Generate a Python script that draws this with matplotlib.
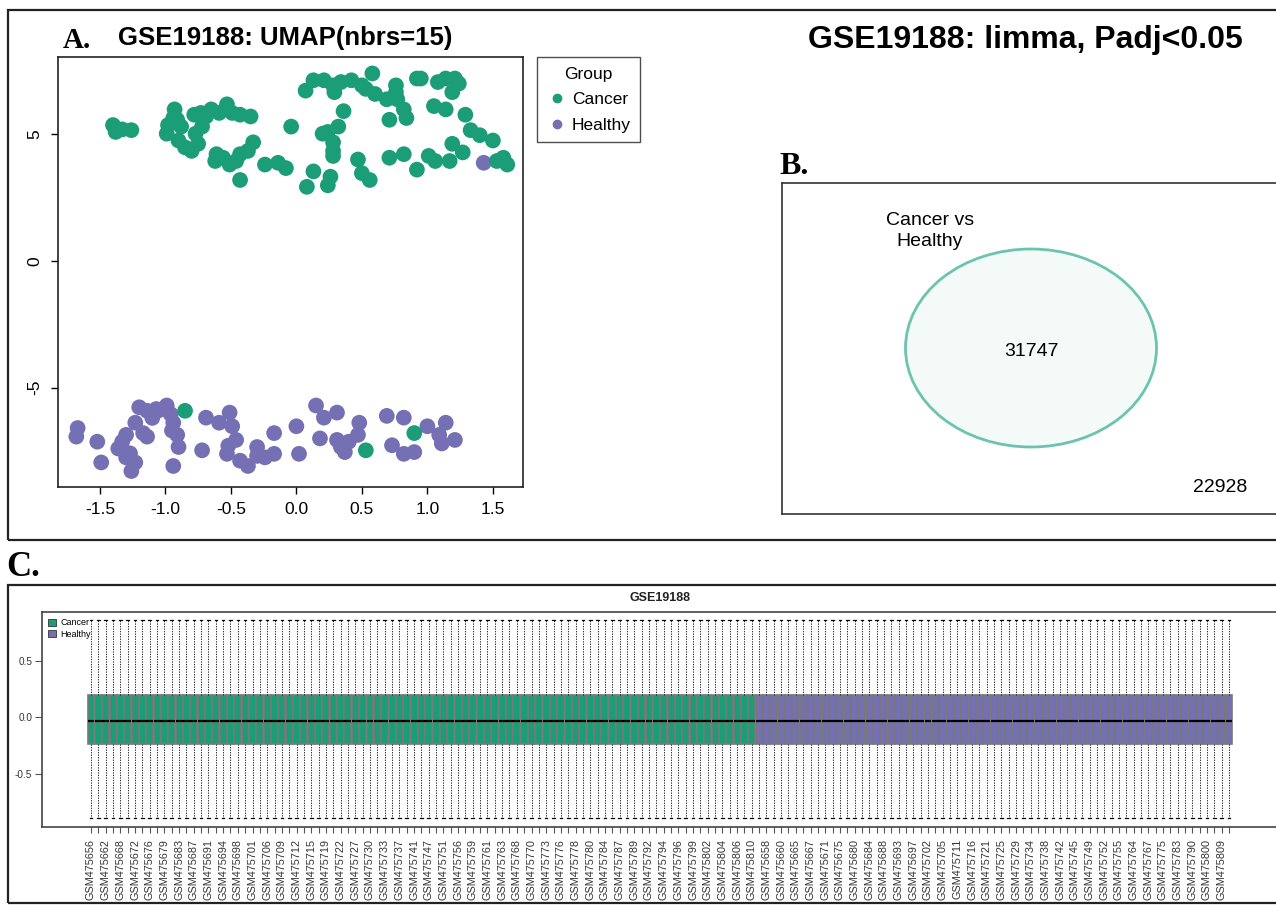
import matplotlib
matplotlib.use("Agg")
import matplotlib.pyplot as plt
from matplotlib.patches import Rectangle, Ellipse
from matplotlib.lines import Line2D

plt.rcParams['font.family'] = ['Liberation Sans', 'DejaVu Sans']

# ---------------- data ----------------
GREEN = '#1B9E77'
PURPLE = '#7570B3'

groups = ['Cancer', 'Healthy']

# Panel A: UMAP coordinates
cancer_x = [-1.40, -1.38, -1.33, -1.26,
            -0.93, -0.94, -0.98, -0.99, -0.91, -0.88, -0.90, -0.85, -0.80, -0.75, -0.77, -0.72, -0.69, -0.73, -0.78,
            -0.65, -0.59, -0.53, -0.49, -0.43, -0.35,
            -0.33, -0.37, -0.43, -0.46, -0.51, -0.56, -0.61, -0.62, -0.43, -0.24, -0.14, -0.08,
            -0.04,
            0.07, 0.13, 0.21, 0.28, 0.34, 0.42, 0.29, 0.50, 0.58, 0.53, 0.60, 0.69, 0.76, 0.77, 0.82, 0.84, 0.71, 0.76,
            0.36, 0.32, 0.24, 0.20, 0.28, 0.28, 0.28,
            0.13, 0.08, 0.26, 0.24,
            0.47, 0.50, 0.56,
            0.71, 0.82, 0.92, 1.01, 1.06, 1.17, 1.19, 1.27,
            0.92, 0.95, 1.08, 1.14, 1.21, 1.24, 1.19, 1.05, 1.14, 1.29, 1.33, 1.40, 1.50,
            1.53, 1.58, 1.61,
            -0.85, 0.53, 0.90]
cancer_y = [5.37, 5.10, 5.20, 5.17,
            5.99, 5.65, 5.37, 5.03, 5.58, 5.31, 4.76, 4.49, 4.35, 4.63, 5.03, 5.31, 5.71, 5.85, 5.78,
            5.99, 5.85, 6.19, 5.85, 5.78, 5.71,
            4.69, 4.35, 4.22, 3.95, 3.81, 4.08, 4.22, 3.95, 3.20, 3.81, 3.88, 3.67,
            5.31,
            6.73, 7.14, 7.14, 6.94, 7.07, 7.14, 6.67, 6.94, 7.41, 6.80, 6.60, 6.39, 6.94, 6.39, 5.99, 5.65, 5.58, 6.67,
            5.92, 5.31, 5.10, 5.03, 4.69, 4.35, 4.15,
            3.54, 2.93, 3.33, 2.99,
            4.01, 3.47, 3.20,
            4.08, 4.22, 3.61, 4.15, 3.95, 3.95, 4.63, 4.29,
            7.21, 7.21, 7.07, 7.21, 7.21, 7.01, 6.67, 6.12, 5.99, 5.78, 5.17, 4.97, 4.76,
            3.95, 4.08, 3.81,
            -5.92, -7.48, -6.80]

healthy_x = [1.43,
             -1.67, -1.68, -1.52, -1.49, -1.36, -1.30, -1.26, -1.23, -1.30, -1.33,
             -1.20, -1.14, -1.23, -1.17, -1.14, -1.07, -0.99, -0.96, -0.94, -0.91,
             -0.90, -0.94, -0.69, -0.72, -0.59, -0.51, -0.49, -0.46, -0.53, -0.43,
             -0.37, -0.30, -0.24, -0.17, -0.17, 0.00, 0.02, 0.15, 0.21, 0.31,
             0.18, 0.31, 0.34, 0.40, 0.37, 0.48, 0.47, 0.69, 0.82, 0.73,
             0.82, 0.90, 1.00, 1.09, 1.14, 1.11, 1.21,
             -1.27, -1.05, -0.95, -0.52, 0.35, -0.30, -1.10]
healthy_y = [3.88,
             -6.60, -6.94, -7.14, -7.96, -7.41, -7.76, -8.30, -7.96, -6.87, -7.14,
             -5.78, -5.92, -6.39, -6.80, -6.94, -5.85, -5.71, -6.05, -6.39, -6.87,
             -7.35, -8.10, -6.19, -7.48, -6.39, -5.99, -6.53, -7.07, -7.62, -7.89,
             -8.10, -7.35, -7.76, -7.62, -6.80, -6.53, -7.62, -5.71, -6.19, -5.99,
             -7.01, -7.07, -7.35, -7.14, -7.55, -6.39, -6.87, -6.12, -6.19, -7.28,
             -7.62, -7.55, -6.53, -6.87, -6.39, -7.21, -7.07,
             -7.60, -5.90, -6.70, -7.30, -7.25, -7.70, -6.20]

umap_xticks = [-1.5, -1.0, -0.5, 0.0, 0.5, 1.0, 1.5]
umap_xticklabels = ['-1.5', '-1.0', '-0.5', '0.0', '0.5', '1.0', '1.5']
umap_yticks = [-5, 0, 5]
umap_yticklabels = ['-5', '0', '5']

# Panel B: Venn counts
venn_set_label = 'Cancer vs\nHealthy'
venn_inside = 31747
venn_outside = 22928

# Panel C: boxplot of samples
n_cancer = 91
n_healthy = 65
box_q1 = -0.238
box_med = -0.03
box_q3 = 0.197
box_whislo = -0.895
box_whishi = 0.86
cancer_labels_shown = ['GSM475656', 'GSM475662', 'GSM475668', 'GSM475672', 'GSM475676', 'GSM475679',
                       'GSM475683', 'GSM475687', 'GSM475691', 'GSM475694', 'GSM475698', 'GSM475701',
                       'GSM475706', 'GSM475709', 'GSM475712', 'GSM475715', 'GSM475719', 'GSM475722',
                       'GSM475727', 'GSM475730', 'GSM475733', 'GSM475737', 'GSM475741', 'GSM475747',
                       'GSM475751', 'GSM475756', 'GSM475759', 'GSM475761', 'GSM475763', 'GSM475768',
                       'GSM475770', 'GSM475773', 'GSM475776', 'GSM475778', 'GSM475780', 'GSM475784',
                       'GSM475787', 'GSM475789', 'GSM475792', 'GSM475794', 'GSM475796', 'GSM475799',
                       'GSM475802', 'GSM475804', 'GSM475806', 'GSM475810']
healthy_labels_shown = ['GSM475658', 'GSM475660', 'GSM475665', 'GSM475667', 'GSM475671', 'GSM475675',
                        'GSM475680', 'GSM475684', 'GSM475688', 'GSM475693', 'GSM475697', 'GSM475702',
                        'GSM475705', 'GSM475711', 'GSM475716', 'GSM475721', 'GSM475725', 'GSM475729',
                        'GSM475734', 'GSM475738', 'GSM475742', 'GSM475745', 'GSM475749', 'GSM475752',
                        'GSM475755', 'GSM475764', 'GSM475767', 'GSM475775', 'GSM475783', 'GSM475790',
                        'GSM475800', 'GSM475809']
box_yticks = [-0.5, 0.0, 0.5]
box_yticklabels = ['-0.5', '0.0', '0.5']

# ---------------- figure ----------------
W, H = 1276, 905
fig = plt.figure(figsize=(W / 100, H / 100), dpi=100)


def fx(px):
    return px / W


def fy(py):
    return 1 - py / H


# outer frames
fig.add_artist(Rectangle((fx(8), fy(540)), 1.2, fy(10) - fy(540), transform=fig.transFigure,
                         fill=False, lw=1.6, ec='#222222'))
fig.add_artist(Rectangle((fx(8), fy(903)), 1.2, fy(585) - fy(903), transform=fig.transFigure,
                         fill=False, lw=1.6, ec='#222222'))

# ---------- Panel A ----------
axA = fig.add_axes([fx(58), fy(487), fx(523) - fx(58), fy(57) - fy(487)])
axA.scatter(healthy_x, healthy_y, s=128, color=PURPLE, edgecolors='none', zorder=2)
axA.scatter(cancer_x, cancer_y, s=128, color=GREEN, edgecolors='none', zorder=3)
axA.set_xlim(-1.82, 1.73)
axA.set_ylim(-8.93, 8.06)
axA.set_xticks(umap_xticks)
axA.set_xticklabels(umap_xticklabels, fontsize=12.5)
axA.set_yticks(umap_yticks)
axA.set_yticklabels(umap_yticklabels, fontsize=12.5, rotation=90, va='center')
axA.tick_params(axis='both', length=5, width=1, pad=6)
for sp in axA.spines.values():
    sp.set_linewidth(1.2)
    sp.set_color('#222222')

fig.text(fx(63), fy(41), 'A.', family=['Liberation Serif', 'DejaVu Serif'], weight='bold',
         fontsize=21, va='center', ha='left')
fig.text(fx(118), fy(38), 'GSE19188: UMAP(nbrs=15)', fontsize=18.5, weight='bold',
         va='center', ha='left')

handles = [Line2D([], [], marker='o', ls='none', color=GREEN, markersize=6),
           Line2D([], [], marker='o', ls='none', color=PURPLE, markersize=6)]
legA = fig.legend(handles, groups, title='Group', loc='upper left',
                  bbox_to_anchor=(fx(537), fy(57)), frameon=True, fancybox=False,
                  edgecolor='#222222', fontsize=12.5, title_fontsize=12.5,
                  handletextpad=0.25, handlelength=1.2, borderpad=0.55, labelspacing=0.6,
                  borderaxespad=0)
legA.get_frame().set_linewidth(1.0)

# ---------- Panel B ----------
fig.text(fx(808), fy(40), 'GSE19188: limma, Padj<0.05', fontsize=23, weight='bold',
         va='center', ha='left')
fig.text(fx(779), fy(166), 'B.', family=['Liberation Serif', 'DejaVu Serif'], weight='bold',
         fontsize=23, va='center', ha='left')

bw = W + 30 - 782
bh = 514 - 183
axB = fig.add_axes([fx(782), fy(514), bw / W, bh / H])
axB.set_xlim(0, bw)
axB.set_ylim(0, bh)
axB.set_xticks([])
axB.set_yticks([])
for sp in axB.spines.values():
    sp.set_linewidth(1.2)
    sp.set_color('#333333')
axB.add_patch(Ellipse((249, 166), 251, 198, facecolor='#F3FAF8', edgecolor='#6CC4AC', lw=2))
axB.text(249, 163, f'{venn_inside}', ha='center', va='center', fontsize=14)
axB.text(148, 283, venn_set_label, ha='center', va='center', fontsize=14, linespacing=1.25)
axB.text(438, 27, f'{venn_outside}', ha='center', va='center', fontsize=14)

# ---------- Panel C ----------
fig.text(fx(6), fy(567), 'C.', family=['Liberation Serif', 'DejaVu Serif'], weight='bold',
         fontsize=25, va='center', ha='left')
fig.text(fx(660), fy(598), 'GSE19188', fontsize=9, weight='bold', ha='center', va='center',
         color='#222222')

n_total = n_cancer + n_healthy
spacing = 7.342
first_px = 91.0
cl, cr = 42, W + 20
axC = fig.add_axes([fx(cl), fy(827), (cr - cl) / W, fy(612) - fy(827)])
positions = list(range(1, n_total + 1))
stats = [dict(q1=box_q1, med=box_med, q3=box_q3, whislo=box_whislo, whishi=box_whishi, fliers=[])
         for _ in positions]
bp = axC.bxp(stats, positions=positions, widths=0.95, patch_artist=True, showfliers=False,
             boxprops=dict(edgecolor='#787878', linewidth=1.2),
             medianprops=dict(color='black', linewidth=1.6),
             whiskerprops=dict(color='#222222', linewidth=0.7, linestyle=(0, (1.3, 1.3))),
             capprops=dict(color='black', linewidth=0.9), capwidths=0.35)
for i, b in enumerate(bp['boxes']):
    b.set_facecolor(GREEN if i < n_cancer else PURPLE)

axC.set_xlim(1 - (first_px - cl) / spacing, 1 + (cr - first_px) / spacing)
axC.set_ylim(-0.974, 0.932)
labels = [''] * n_total
for k, lab in enumerate(cancer_labels_shown):
    labels[2 * k] = lab
for k, lab in enumerate(healthy_labels_shown):
    labels[n_cancer + 1 + 2 * k] = lab
axC.set_xticks(positions)
axC.set_xticklabels(labels, rotation=90, fontsize=7.8, color='#333333')
axC.tick_params(axis='x', length=4.5, width=0.8, pad=4.0, color='#555555')
axC.set_yticks(box_yticks)
axC.set_yticklabels(box_yticklabels, fontsize=7.2, color='#333333')
axC.tick_params(axis='y', length=5, width=0.8, pad=2, color='#555555')
for sp in axC.spines.values():
    sp.set_linewidth(1.2)
    sp.set_color('#444444')

sq = [Rectangle((0, 0), 1, 1, facecolor=GREEN, edgecolor='#333333', lw=0.6),
      Rectangle((0, 0), 1, 1, facecolor=PURPLE, edgecolor='#333333', lw=0.6)]
axC.legend(sq, groups, loc='upper left', bbox_to_anchor=(0.0, 1.0), frameon=False,
           fontsize=6.5, handlelength=0.8, handleheight=0.8, handletextpad=0.5,
           labelspacing=0.25, borderaxespad=0.3)

fig.savefig('out.png', dpi=100)
